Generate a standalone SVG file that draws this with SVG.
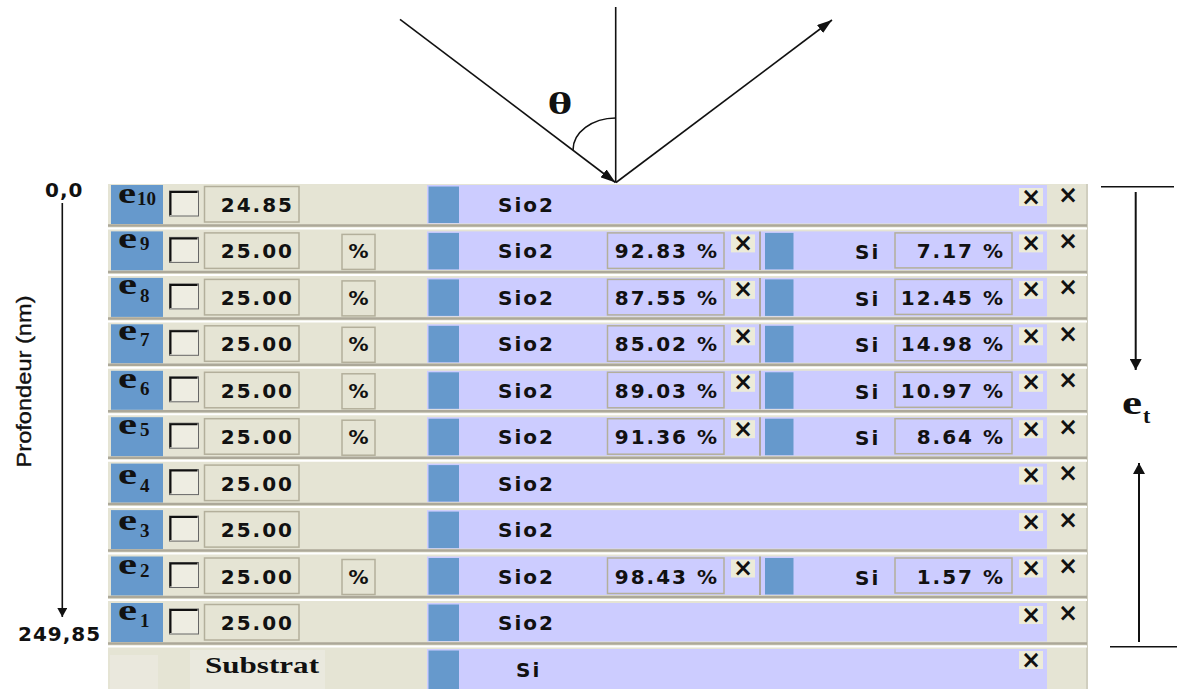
<svg xmlns="http://www.w3.org/2000/svg" width="1177" height="689" viewBox="0 0 1177 689">
<style>
.bg{fill:#E5E4D4}
.lav{fill:#CCCCFF}
.blue{fill:#6699CC}
.sep{stroke:#ACA899;stroke-width:2.5}
.wsep{stroke:#FFFFFF;stroke-width:2}
.fld{fill:none;stroke:#B3AF9B;stroke-width:1.5}
.btn{fill:#ECEBD9}
.cb{fill:#EEEDE2;stroke:#666;stroke-width:1}
.cbd{fill:none;stroke:#111;stroke-width:2}
.vs{stroke:#ACA899;stroke-width:2}
.t{font-family:"DejaVu Sans",Verdana,sans-serif;font-weight:bold;font-size:20px;letter-spacing:2px;fill:#111}
.e{text-anchor:end}
.x{font-family:"DejaVu Sans",Verdana,sans-serif;font-weight:bold;font-size:24px;fill:#111;text-anchor:middle}
.lbl{font-family:"Liberation Serif","Times New Roman",serif;font-weight:bold;font-size:30px;fill:#111}
.sub{font-family:"Liberation Serif","Times New Roman",serif;font-weight:bold;font-size:19px;fill:#111}
.ln{stroke:#111;stroke-width:1.6;fill:none}
.ln2{stroke:#111;stroke-width:2;fill:none}
</style>
<defs>
<marker id="ar" viewBox="0 0 15 10" refX="15" refY="5" markerWidth="15" markerHeight="10" orient="auto" markerUnits="userSpaceOnUse"><path d="M0,0 L15,5 L0,10 z" fill="#111"/></marker>
<marker id="av" viewBox="0 0 11 12" refX="11" refY="6" markerWidth="11" markerHeight="12" orient="auto" markerUnits="userSpaceOnUse"><path d="M0,0 L11,6 L0,12 z" fill="#111"/></marker>
<marker id="ax" viewBox="0 0 9 10" refX="9" refY="5" markerWidth="9" markerHeight="10" orient="auto" markerUnits="userSpaceOnUse"><path d="M0,0 L9,5 L0,10 z" fill="#111"/></marker>
<g id="cbox"><rect class="cb" x="169.5" y="6" width="29" height="25"/><path class="cbd" d="M170.5,30 V7 H197.5"/></g>
<g id="base">
<rect class="lav" x="427" y="0" width="620" height="38.5"/>
<rect class="blue" x="111" y="0" width="52" height="39"/>
<use href="#cbox"/>
<rect class="fld" x="204.5" y="1.5" width="94.5" height="35.5"/>
<rect class="blue" x="428.5" y="1.5" width="30.5" height="36.5"/>
<text class="t" x="498" y="27">Sio2</text>
<rect class="btn" x="1019" y="3" width="24" height="18"/>
<text class="x" x="1031" y="19.5">×</text>
<text class="x" x="1068" y="17.5">×</text>
<line class="sep" x1="108" y1="40.5" x2="1087" y2="40.5"/>
<line class="wsep" x1="108" y1="43.5" x2="1087" y2="43.5"/>
</g>
<g id="comp">
<rect class="fld" x="342" y="3" width="33" height="35"/>
<text class="t" x="359.5" y="27" text-anchor="middle">%</text>
<rect class="fld" x="607.5" y="1.5" width="116.5" height="35.5"/>
<rect class="btn" x="731" y="3" width="24" height="18"/>
<text class="x" x="743" y="19.5">×</text>
<line class="vs" x1="760" y1="0" x2="760" y2="38.5"/>
<rect class="blue" x="765" y="1.5" width="28.5" height="36.5"/>
<text class="t" x="855" y="28">Si</text>
<rect class="fld" x="895" y="1.5" width="117" height="35"/>
</g>
</defs>

<rect width="1177" height="689" fill="#FFFFFF"/>
<rect class="bg" x="108" y="184" width="980" height="505"/>
<line x1="1087" y1="184" x2="1087" y2="689" stroke="#C9C7B8" stroke-width="1.5"/>

<g id="axis">
<text class="t" x="45" y="197" style="letter-spacing:1px">0,0</text>
<text class="t" x="18" y="641" style="letter-spacing:1px">249,85</text>
<text x="31" y="381.5" transform="rotate(-90 31 381.5)" text-anchor="middle" font-family="Liberation Sans, Arial, sans-serif" font-size="21" fill="#111" stroke="#111" stroke-width="0.4" textLength="172" lengthAdjust="spacingAndGlyphs">Profondeur (nm)</text>
</g>

<g id="row-e10" transform="translate(0,185)">
<use href="#base"/>
<text class="lbl" x="118" y="18" textLength="18" lengthAdjust="spacingAndGlyphs">e</text>
<text class="sub" x="137" y="20" font-size="17">10</text>
<text class="t e" x="294" y="27">24.85</text>
</g>

<g id="row-e9" transform="translate(0,231.4)">
<use href="#base"/><use href="#comp"/>
<text class="lbl" x="118" y="17" textLength="19" lengthAdjust="spacingAndGlyphs">e</text>
<text class="sub" x="140" y="19">9</text>
<text class="t e" x="294" y="27">25.00</text>
<text class="t e" x="719" y="27">92.83 %</text>
<text class="t e" x="1005" y="27">7.17 %</text>
</g>

<g id="row-e8" transform="translate(0,277.9)">
<use href="#base"/><use href="#comp"/>
<text class="lbl" x="118" y="16" textLength="19" lengthAdjust="spacingAndGlyphs">e</text>
<text class="sub" x="140" y="24">8</text>
<text class="t e" x="294" y="27">25.00</text>
<text class="t e" x="719" y="27">87.55 %</text>
<text class="t e" x="1005" y="27">12.45 %</text>
</g>

<g id="row-e7" transform="translate(0,324.3)">
<use href="#base"/><use href="#comp"/>
<text class="lbl" x="118" y="16" textLength="19" lengthAdjust="spacingAndGlyphs">e</text>
<text class="sub" x="140" y="22">7</text>
<text class="t e" x="294" y="27">25.00</text>
<text class="t e" x="719" y="27">85.02 %</text>
<text class="t e" x="1005" y="27">14.98 %</text>
</g>

<g id="row-e6" transform="translate(0,370.8)">
<use href="#base"/><use href="#comp"/>
<text class="lbl" x="118" y="17" textLength="19" lengthAdjust="spacingAndGlyphs">e</text>
<text class="sub" x="140" y="24">6</text>
<text class="t e" x="294" y="27">25.00</text>
<text class="t e" x="719" y="27">89.03 %</text>
<text class="t e" x="1005" y="27">10.97 %</text>
</g>

<g id="row-e5" transform="translate(0,417.2)">
<use href="#base"/><use href="#comp"/>
<text class="lbl" x="118" y="17" textLength="19" lengthAdjust="spacingAndGlyphs">e</text>
<text class="sub" x="140" y="19">5</text>
<text class="t e" x="294" y="27">25.00</text>
<text class="t e" x="719" y="27">91.36 %</text>
<text class="t e" x="1005" y="27">8.64 %</text>
</g>

<g id="row-e4" transform="translate(0,463.6)">
<use href="#base"/>
<text class="lbl" x="118" y="20" textLength="19" lengthAdjust="spacingAndGlyphs">e</text>
<text class="sub" x="140" y="28">4</text>
<text class="t e" x="294" y="27">25.00</text>
</g>

<g id="row-e3" transform="translate(0,510.1)">
<use href="#base"/>
<text class="lbl" x="118" y="20" textLength="19" lengthAdjust="spacingAndGlyphs">e</text>
<text class="sub" x="140" y="27">3</text>
<text class="t e" x="294" y="27">25.00</text>
</g>

<g id="row-e2" transform="translate(0,556.5)">
<use href="#base"/><use href="#comp"/>
<text class="lbl" x="118" y="17" textLength="19" lengthAdjust="spacingAndGlyphs">e</text>
<text class="sub" x="140" y="20">2</text>
<text class="t e" x="294" y="27">25.00</text>
<text class="t e" x="719" y="27">98.43 %</text>
<text class="t e" x="1005" y="27">1.57 %</text>
</g>

<g id="row-e1" transform="translate(0,603)">
<use href="#base"/>
<text class="lbl" x="118" y="17" textLength="19" lengthAdjust="spacingAndGlyphs">e</text>
<text class="sub" x="140" y="24">1</text>
<text class="t e" x="294" y="27">25.00</text>
</g>

<g id="row-substrat">
<rect x="110" y="655" width="48" height="34" fill="#EAE8DD"/>
<rect x="190" y="650" width="135" height="39" fill="#EAE9DE"/>
<text x="205" y="673" font-family="Liberation Serif, Times New Roman, serif" font-weight="bold" font-size="24" fill="#111" textLength="114" lengthAdjust="spacingAndGlyphs">Substrat</text>
<rect class="lav" x="427" y="649" width="620" height="40"/>
<rect class="blue" x="428.5" y="650.5" width="30.5" height="38.5"/>
<text class="t" x="516" y="677">Si</text>
<rect class="btn" x="1019" y="651" width="24" height="18"/>
<text class="x" x="1031" y="667.5">×</text>
</g>

<g id="connectors">
<line class="ln" x1="400" y1="19.3" x2="615.5" y2="182.5" marker-end="url(#ar)"/>
<line class="ln" x1="615.7" y1="7" x2="615.7" y2="182.5"/>
<line class="ln" x1="616" y1="182.5" x2="832" y2="20" marker-end="url(#ar)"/>
<path class="ln" d="M573,150 A43,32 0 0 1 615.7,118"/>
<line class="ln" x1="62.3" y1="203" x2="62.3" y2="617" marker-end="url(#ax)"/>
<line class="ln" x1="1101" y1="186.7" x2="1174" y2="186.7"/>
<line class="ln2" x1="1135.7" y1="192" x2="1135.7" y2="370" marker-end="url(#av)"/>
<line class="ln2" x1="1139" y1="642" x2="1139" y2="463" marker-end="url(#av)"/>
<line class="ln" x1="1110" y1="646.7" x2="1177" y2="646.7"/>
</g>

<g id="labels">
<text x="560" y="113.5" text-anchor="middle" font-family="Liberation Serif, Times New Roman, serif" font-weight="bold" font-size="32" fill="#111" textLength="25" lengthAdjust="spacingAndGlyphs">θ</text>
<text x="1122" y="413.5" font-family="Liberation Serif, Times New Roman, serif" font-weight="bold" font-size="34" fill="#111" textLength="20" lengthAdjust="spacingAndGlyphs">e</text>
<text x="1143" y="423" font-family="Liberation Serif, Times New Roman, serif" font-weight="bold" font-size="22" fill="#111">t</text>
</g>
</svg>
